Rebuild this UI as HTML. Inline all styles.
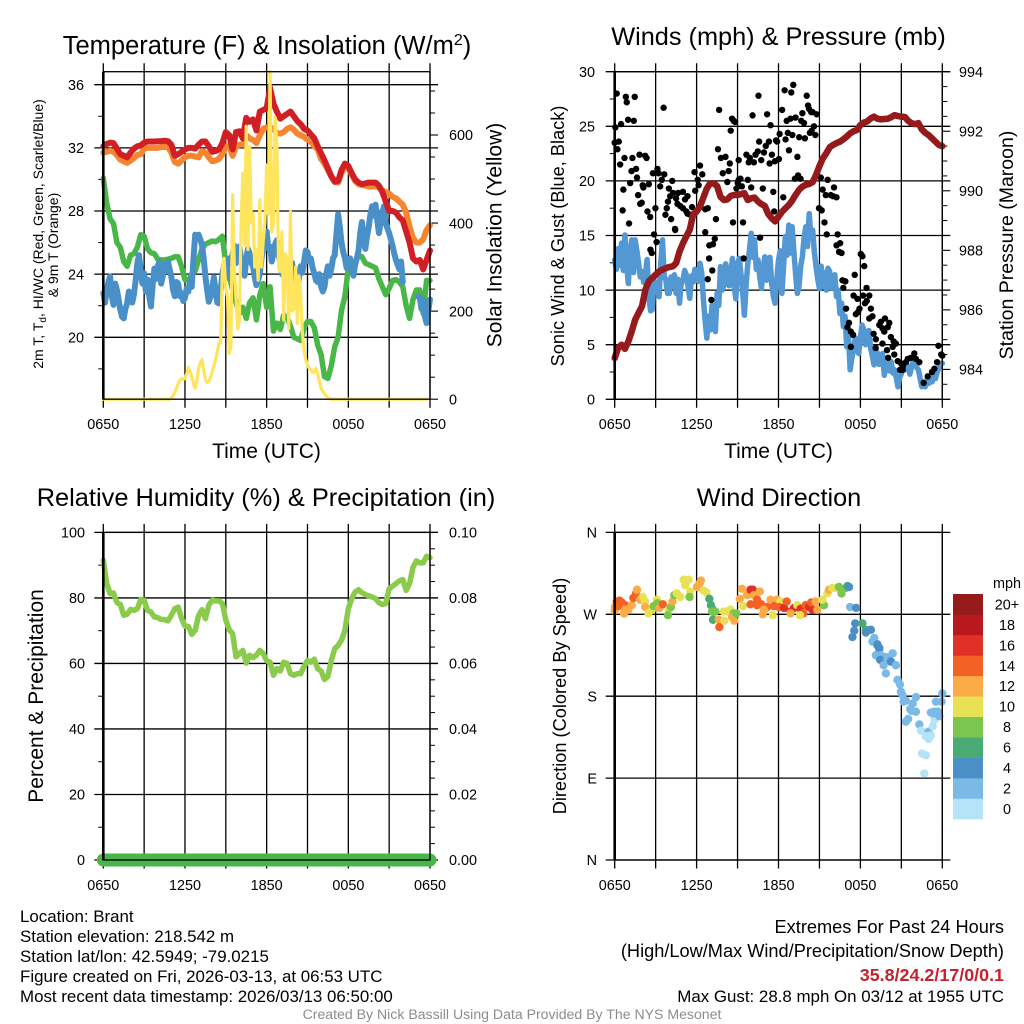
<!DOCTYPE html>
<html>
<head>
<meta charset="utf-8">
<title>Brant station meteogram</title>
<style>
html,body{margin:0;padding:0;background:#fff;}
svg{display:block;font-family:"Liberation Sans",sans-serif;}
</style>
</head>
<body>
<svg id="figure" xmlns="http://www.w3.org/2000/svg" width="1024" height="1024" viewBox="0 0 1024 1024">
<g id="layer-panels"></g>
<text x="267" y="54" font-size="25.5" text-anchor="middle">Temperature (F) &amp; Insolation (W/m<tspan font-size="16" dy="-9">2</tspan><tspan dy="9">)</tspan></text>
<text x="778.5" y="45" font-size="25.3" text-anchor="middle">Winds (mph) &amp; Pressure (mb)</text>
<text x="266" y="506" font-size="25.4" text-anchor="middle">Relative Humidity (%) &amp; Precipitation (in)</text>
<text x="779" y="506" font-size="25.3" text-anchor="middle">Wind Direction</text>
<text x="266.5" y="458" font-size="21" text-anchor="middle">Time (UTC)</text>
<text x="778.5" y="458" font-size="21" text-anchor="middle">Time (UTC)</text>
<text transform="translate(43 234) rotate(-90)" font-size="14" text-anchor="middle">2m T, T<tspan font-size="10" dy="3">d</tspan><tspan dy="-3">, HI/WC (Red, Green, Scarlet/Blue)</tspan></text>
<text transform="translate(58 245) rotate(-90)" font-size="14" text-anchor="middle">&amp; 9m T (Orange)</text>
<text transform="translate(501.5 235) rotate(-90)" font-size="21" text-anchor="middle">Solar Insolation (Yellow)</text>
<text transform="translate(564 236) rotate(-90)" font-size="18.2" text-anchor="middle">Sonic Wind &amp; Gust (Blue, Black)</text>
<text transform="translate(1013 245) rotate(-90)" font-size="19.5" text-anchor="middle">Station Pressure (Maroon)</text>
<text transform="translate(43 696) rotate(-90)" font-size="21" text-anchor="middle">Percent &amp; Precipitation</text>
<text transform="translate(566 696) rotate(-90)" font-size="18.2" text-anchor="middle">Direction (Colored By Speed)</text>
<g font-size="16.9">
<text x="20" y="922">Location: Brant</text>
<text x="20" y="942">Station elevation: 218.542 m</text>
<text x="20" y="962">Station lat/lon: 42.5949; -79.0215</text>
<text x="20" y="982">Figure created on Fri, 2026-03-13, at 06:53 UTC</text>
<text x="20" y="1002">Most recent data timestamp: 2026/03/13 06:50:00</text>
</g>
<g text-anchor="end">
<text x="1004" y="933" font-size="18.2">Extremes For Past 24 Hours</text>
<text x="1004" y="957" font-size="18.2">(High/Low/Max Wind/Precipitation/Snow Depth)</text>
<text x="1004" y="981" font-size="17.9" font-weight="bold" fill="#c8202c">35.8/24.2/17/0/0.1</text>
<text x="1004" y="1002" font-size="16.9">Max Gust: 28.8 mph On 03/12 at 1955 UTC</text>
</g>
<text x="512" y="1019" font-size="14.1" fill="#8c8c8c" text-anchor="middle">Created By Nick Bassill Using Data Provided By The NYS Mesonet</text>
</svg>
<script>
// Time axis: series are sampled on a regular grid over 24 hours.
const timeStepMinutes = 15;
const fineStepMinutes = 7.5;
const timeGridHours = [0, 3, 6, 9, 12, 15, 18, 21, 24];
const timeTickLabels = ['0650', '', '1250', '', '1850', '', '0050', '', '0650'];

const temperatureTicks = [36, 32, 28, 24, 20];
const temperatureMinorTicks = [34, 30, 26, 22, 18];
const solarTicks = [0, 200, 400, 600];
const solarMinorTicks = [50, 100, 150, 250, 300, 350, 450, 500, 550, 650, 700];
const windTicks = [0, 5, 10, 15, 20, 25, 30];
const windMinorTicks = [2.5, 7.5, 12.5, 17.5, 22.5, 27.5];
const pressureTicks = [984, 986, 988, 990, 992, 994];
const pressureMinorTicks = [983.5, 984.5, 985, 985.5, 986.5, 987, 987.5, 988.5, 989, 989.5, 990.5, 991, 991.5, 992.5, 993, 993.5];
const humidityTicks = [0, 20, 40, 60, 80, 100];
const humidityMinorTicks = [10, 30, 50, 70, 90];
const precipTicks = [0, 0.02, 0.04, 0.06, 0.08, 0.1];
const precipTickLabels = ['0.00', '0.02', '0.04', '0.06', '0.08', '0.10'];
const precipMinorTicks = [0.005, 0.01, 0.015, 0.025, 0.03, 0.035, 0.045, 0.05, 0.055, 0.065, 0.07, 0.075, 0.085, 0.09, 0.095];
const compassTicks = [0, 90, 180, 270, 360];
const compassLabels = ['N', 'E', 'S', 'W', 'N'];
const speedBinLabels = ['0', '2', '4', '6', '8', '10', '12', '14', '16', '18', '20+'];
const speedBinColors = ['#b5e3f8', '#7bb9e6', '#4a8fc6', '#4aaa73', '#7ac64e', '#e8e156', '#fbab45', '#f46124', '#e03127', '#b9181f', '#941a1c'];

const airTemp = [32.1,32.25,32.33,32.3,31.95,31.6,31.5,31.4,31.7,31.95,32.1,32.15,32.33,32.4,32.4,32.4,32.42,32.42,32.45,32.42,32.2,31.5,31.6,31.75,31.9,32,32,31.95,32.2,32.4,32.4,32.1,31.75,31.8,31.9,32.3,33,32.8,31.9,33,33.05,32.6,33.9,33.65,33.8,33.1,34.3,34.4,34.5,35.8,34.8,34.3,33.85,34,34.15,34.3,34,33.7,33.5,33.2,33.1,32.85,32.6,32.1,31.65,31.2,30.7,30.2,29.85,29.9,30.6,31,30.85,30.4,30,29.8,29.7,29.75,29.8,29.8,29.8,29.6,29.2,28.6,28,28,27.9,27.6,27.4,26.7,26,25,24.8,24.9,24.3,24.9,25.5];
const nineMeterTemp = [31.7,31.75,31.82,31.75,31.55,31.25,31.15,31.05,31.2,31.35,31.55,31.6,31.95,32,32,32,32,32.05,32.05,32.05,31.7,31.1,31,31.2,31.4,31.5,31.5,31.45,31.4,31.8,31.7,31.4,31.15,31.2,31.3,31.6,32.1,32.1,31.5,32.1,32.2,32.2,32.8,32.6,32.5,32.3,32.8,33.2,33.3,33.3,33.2,32.95,32.9,33,33.2,33.3,33.15,32.9,32.8,32.7,32.5,32.4,32.1,31.9,31.3,31,30.6,30.2,29.9,29.8,30.4,30.8,30.7,30.3,29.9,29.7,29.65,29.6,29.55,29.55,29.55,29.5,29.3,29.2,29.1,28.9,28.8,28.6,28.4,27.9,27,26.3,26,26,26.2,26.8,27.1];
const dewPoint = [30.07,28.5,27.5,27.2,26,25.7,24.8,24.5,25.2,25.3,25.7,26.5,26.4,25.6,25.35,25.3,24.95,24.9,24.9,24.95,25,25.1,25.1,24.5,23.65,23.6,24,24.2,24.9,25.6,25.9,26,26.1,26.05,26.2,26.4,24.6,23.9,23,22.2,21.5,21.9,21.2,22.2,22.5,21.1,22.7,23.4,21.9,23.2,20.4,20.9,20.5,21.4,21.3,20.7,20,19.9,19.8,20.6,21,21,20.6,19.5,18.9,17.5,17.4,18.2,19.4,20,21.7,22.6,24.4,24.6,24.8,25.2,25.1,24.7,24.6,24.5,24.4,23.7,23.2,22.7,23.1,23.6,23.65,23.5,23.2,22,21.2,22.4,23,23,21.5,23.6,23.6];
const windChill = [22.8,22.2,23,23.5,23.85,22.6,22.05,23.4,23,22.4,21.75,21.3,21.2,21.8,22.15,22.9,22.8,22.2,22.7,23.6,24.7,25.2,24.25,23.4,24.05,22.9,23.65,22.6,21.95,23.3,24.35,23.7,24.5,24.8,23.4,23.9,24.6,24.2,24.8,24.3,23.85,23,22.6,23.5,23.4,22.6,22.8,22.3,22.5,23.1,22.9,23.6,23.2,25,26.5,26.3,26.5,26.2,25.85,25,23.85,23,22.25,22.6,23.1,23.8,22.9,22.2,22.15,23,24.05,24.6,23.75,24.6,25,24.6,25.3,25.8,24.7,25.1,25.75,25,24.7,23.9,24.9,25.6,25.3,24.7,24.5,23.8,23.3,23.6,24.05,25,25.65,26.2,26.7,25.6,25.75,24.8,25.3,25.9,26.15,25.3,24.7,24,24.5,25,24.9,24.2,24.05,24.7,23.85,23.2,23,23.8,24.5,24.1,24.8,25.5,25.4,24.8,25,24.4,24.05,23.6,23.5,24,23.2,22.9,23.2,24,24.5,23.9,24.35,25,25.2,26.5,27.8,27,26,25.4,25,24.4,24.5,25,24.3,23.9,24.6,25,25.5,26.6,27.3,26.2,25.6,26.4,27,27.8,28.3,27.7,28.4,27.4,26.6,27.3,27.9,28.3,27.2,26.9,26.6,26.2,25.8,25.3,24.9,24.6,24.3,24.8,23.5,null,null,null,null,null,null,null,null,22.6,22.5,21.8,22.4,21.3,20.9,21.7,22.4];
const solarRadiation = [0,0,0,0,0,0,0,0,0,0,0,0,0,0,0,0,0,0,0,0,0,0,0,0,0,0,0,0,0,0,0,0,0,0,0,0,0,0,0,0,3,8,15,25,35,42,47,45,47,58,72,62,50,36,25,45,70,82,90,65,45,38,40,50,62,75,90,108,127,127,300,320,250,233,104,120,464,300,230,160,180,400,513,350,620,340,574,400,422,300,340,270,453,300,360,400,532,420,744,380,400,640,581,300,290,380,180,330,320,160,426,200,205,300,172,280,240,150,110,90,78,70,68,60,62,70,58,40,25,18,12,7,3,1,0,0,0,0,0,0,0,0,0,0,0,0,0,0,0,0,0,0,0,0,0,0,0,0,0,0,0,0,0,0,0,0,0,0,0,0,0,0,0,0,0,0,0,0,0,0,0,0,0,0,0,0,0,0,0,0,0];

const sonicWind = [12.75,11.9,13.8,12.3,14.3,11.8,15.05,12.2,10.6,13.5,14.6,11.6,14.6,13.6,12.45,11.2,11.7,10.7,11.5,12.8,9.4,8.1,8.2,10.8,10.3,10.7,9.4,12.5,14.6,11.3,10.9,9.7,9.7,11.2,10.3,11.4,9.7,11,8.8,10.6,10.9,11.8,11.4,10.3,9.25,11.3,10.75,11.9,11.5,10.8,12.45,11.6,9.1,7.2,5.6,7.6,6.35,8.6,7.25,6.2,9.7,8.6,12.15,10,10.45,12.4,11.85,10.4,11.5,12.9,10.3,9.2,12.45,12.9,11.5,9.8,7.7,10.4,12.45,13.7,15.2,13,14.6,11.9,12.75,11.2,10.15,12,13.05,10.9,11.85,13,10.6,9.4,8.8,11,12.75,13.6,9.7,12.2,14.9,13.2,15.95,13.4,15.8,13.6,11.5,9.7,10.3,12.2,13.05,14.8,15.8,14,17,14.8,15.5,13.5,12.15,11,10.15,12.2,10.3,11.6,10,12,11.7,10.2,10.6,11.4,9.4,10,7.85,8.8,6.65,7.6,4.8,5.8,2.7,3.8,4.5,5.6,5,4.2,5.7,6.8,6.35,5,5.6,6.3,4.65,4,3.15,4.6,4.2,3.2,3.3,4.2,2.2,3.2,3.3,2.6,3.45,2.4,2.7,2,1.15,2,2.35,3.1,2.7,3.2,2.85,2.3,3,3.5,3.45,2.9,2.7,1.9,1.15,1.6,1.15,1.8,1.45,1.9,1.6,2.2,1.9,2.5,2.85,3.3,3.3];
const stationPressure = [984.38,984.72,984.83,984.69,984.94,985.28,985.67,985.9,986.12,986.68,986.96,987.07,987.18,987.29,987.35,987.4,987.44,987.46,987.57,987.96,988.24,988.47,988.69,989.22,989.3,989.47,989.78,990.08,990.25,990.25,990.16,989.8,989.69,989.71,989.83,989.86,989.86,989.89,989.92,989.69,989.75,989.77,989.64,989.55,989.49,989.22,989.08,988.97,989.13,989.29,989.41,989.52,989.67,989.86,990.03,990.14,990.2,990.23,990.29,990.53,990.83,991.09,991.26,991.46,991.54,991.6,991.65,991.73,991.82,991.93,992,992.04,992.21,992.29,992.33,992.43,992.49,992.42,992.4,992.41,992.42,992.47,992.54,992.51,992.49,992.48,992.35,992.27,992.24,992.27,992.06,991.95,991.87,991.76,991.65,991.54,991.5];
const gustMinutes = [9,49,53,88,59,84,28,3,18,0,12,43,78,109,134,140,24,94,74,98,168,188,193,218,207,253,68,38,123,150,126,200,103,238,112,119,35,144,156,179,229,234,223,248,63,265,244,256,279,300,270,320,309,276,288,300,315,340,320,351,375,365,385,369,354,215,459,454,467,487,475,501,506,545,495,545,553,541,585,535,559,600,651,697,741,579,594,619,629,644,656,664,678,635,612,589,681,691,704,722,709,714,725,751,736,756,773,795,761,781,811,836,825,820,832,858,876,866,882,766,803,792,806,817,906,936,914,964,928,950,960,975,898,910,922,850,844,854,864,888,870,747,776,785,632,606,670,685,523,516,529,510,445,520,564,701,409,398,332,173,184,157,163,266,398,416,432,440,415,429,409,425,567,639,932,980,991,975,986,997,1082,1089,1097,1055,1001,1014,1005,1107,1050,1067,1092,1119,1108,1100,1017,1076,1070,1060,1126,1133,1119,1030,1023,1038,1048,1038,1188,1207,1200,1170,1163,1177,1185,1138,1148,1214,1226,1236,1222,1177,1147,1197,1229,1202,1244,1258,1266,1254,1288,1317,1302,1324,1339,1280,1423,1435,1440,1417,1358,1376,1395,1405,1266];
const gustMph = [28,27.7,27.2,27.7,25.6,25.5,25.2,24.9,23.6,23.5,22.9,22.1,22.1,22.4,22.3,22.1,21.5,21.1,20.9,20.3,20.7,21.1,20.7,20.6,20.1,20,19.8,19.2,19.6,19.7,19.4,19.5,18.7,19.3,17.9,18,17.3,17.2,16.7,17.5,17.5,18.1,16.9,16.5,16.1,15.6,18.6,18.9,18.9,19,18.4,18.6,18.3,17.9,17.7,17.5,17.2,17.6,17,20.8,21.4,20.1,20.6,19.6,19.1,26.7,26.5,22.9,22.1,22.2,20.7,20.9,21.6,21.9,19.9,20.1,20.2,19.8,20.1,19.3,19.5,19.4,19.3,19,18.5,22.4,22.1,22.4,22.7,21.9,22.6,23.2,23.6,23.6,21.7,21.7,21.6,22.4,21.8,22,23.7,23.6,24.3,23.8,26.5,25.5,25.7,25.8,24.4,24.2,24,23.9,26.2,25.5,25.3,24.4,25,24.6,24.2,22.8,22.2,20.2,20.5,20.2,20.3,20.1,19.2,19.4,18.7,18.7,18.6,18.5,17.5,17.3,16.2,26.9,27.8,26.6,26.3,26.1,26.3,28.3,28.1,28.8,27.8,26,26.1,25.1,25.5,25.7,25.4,24.6,16.5,16.2,16.2,17.2,17.5,17.4,16.9,15.1,14.4,13.7,13.4,15.5,15.3,14.1,14.2,14.7,12.9,11.8,11,9.1,12.9,14.8,15.1,15.1,14.3,14.1,13.5,13.4,13.3,13.1,12.2,11.4,10.9,10.8,10.2,10.2,9.5,9.2,9.5,9.5,9,8.8,8.3,8.3,8,7.8,8.3,7.6,7.4,7,6.6,6.2,5.9,4.8,7.4,7,6.6,7.1,6.8,6.5,6.2,6,5.5,5.7,5.3,5.1,4.8,5.1,4.7,4.5,4.1,3.8,3.5,3.3,3,2.7,3.7,4.2,3.8,3.7,3.4,3.4,4.9,4.1,4,3.4,1.5,2.1,2.5,2.8,2.7];

const relativeHumidity = [91.5,84.4,81.3,81.5,78.6,78,74.7,75,76.5,76.2,76.7,79.5,79.3,76.2,75.7,74.2,74,73.4,73.4,73,74.7,76.7,77.2,73.7,71.4,71.3,68.9,70.1,74.7,76.4,73.7,77.8,79.3,79.1,79.1,78.3,73.2,70.3,69.1,62,63,64,60.1,62.5,61.8,62.5,64,63,60.8,60.4,56.4,58.4,57.7,60.4,60,56.9,56.4,56.9,56.9,59.1,60.9,60.4,61.3,58.4,57.7,55.1,56.1,60.9,64.5,65.5,67.1,70.1,76.7,79.8,81.8,82.5,81.6,81,80.6,80.3,79.8,78.5,78,78.3,82.8,83.6,84.4,85.2,85.6,82.3,84.4,89.3,91.3,90.7,90.7,92.7,92.3];
const precipitation = [0,0,0,0,0,0,0,0,0,0,0,0,0,0,0,0,0,0,0,0,0,0,0,0,0,0,0,0,0,0,0,0,0,0,0,0,0,0,0,0,0,0,0,0,0,0,0,0,0,0,0,0,0,0,0,0,0,0,0,0,0,0,0,0,0,0,0,0,0,0,0,0,0,0,0,0,0,0,0,0,0,0,0,0,0,0,0,0,0,0,0,0,0,0,0,0,0];

const directionMinutes = [0,1,9,21,31,16,46,46,60,41,75,82,94,98,112,123,134,134,148,163,171,185,188,197,212,237,234,247,254,262,273,288,303,325,310,332,329,362,373,379,391,403,416,423,432,428,442,432,457,460,482,479,494,509,523,516,526,535,560,550,564,582,597,607,612,638,626,597,626,644,670,656,651,685,714,700,729,722,744,756,773,788,803,817,829,814,773,839,854,869,864,883,891,695,920,913,935,942,957,972,986,997,1016,1023,1030,1035,1061,1057,1045,1053,1089,1104,1126,1104,1141,1155,1163,1152,1167,1200,1222,1192,1133,1155,1163,1148,1170,1167,1199,1214,1221,1182,1236,1192,1243,1254,1258,1265,1280,1270,1324,1310,1299,1324,1305,1290,1280,1339,1346,1379,1368,1390,1380,1398,1405,1390,1420,1412,1437,1427,1440,1351,1368,1361,1405,1398];
const directionDegrees = [274,278,284,285,283,279,280,275,275,271,280,288,293,297,286,289,284,278,271,275,279,286,282,277,281,275,269,278,284,291,293,289,308,308,302,295,289,300,304,307,296,294,287,280,275,273,273,264,264,256,263,273,273,275,271,267,263,271,298,287,279,291,297,297,291,295,286,281,280,281,278,275,270,286,286,279,284,278,277,284,273,277,280,276,271,269,271,280,278,275,283,284,275,269,280,286,293,297,299,299,300,293,299,301,300,278,277,260,245,252,260,253,253,250,244,236,233,225,222,220,227,223,240,237,232,225,225,220,221,218,227,214,214,205,198,193,185,181,175,174,179,172,166,163,164,155,152,149,142,141,136,137,133,147,154,162,163,174,174,158,183,117,115,95,163,161];
const directionSpeeds = [12,12,14,14,14,14,14,12,12,12,12,14,14,12,12,10,10,12,10,10,8,10,8,12,14,10,8,8,12,8,10,10,10,10,10,10,8,12,12,12,10,10,6,6,6,8,8,6,12,14,10,10,10,10,8,12,12,8,12,12,10,12,16,16,12,12,14,14,14,14,14,12,12,12,12,14,10,14,16,14,16,16,10,16,14,10,12,14,16,16,14,12,12,10,8,10,10,12,10,10,8,8,8,6,4,2,4,4,4,4,6,6,4,4,2,4,4,2,4,4,2,2,2,4,4,2,2,4,2,4,2,2,2,2,2,2,2,2,2,2,2,2,2,2,2,2,2,2,0,2,0,0,0,0,0,2,2,2,2,2,2,0,0,0,2,2];

const NS = 'http://www.w3.org/2000/svg';
const root = document.getElementById('layer-panels');

function add(parent, tag, attrs) {
  const n = document.createElementNS(NS, tag);
  for (const k in attrs) n.setAttribute(k, attrs[k]);
  parent.appendChild(n);
  return n;
}
function linear(d0, d1, r0, r1) {
  return function (v) { return r0 + (v - d0) * (r1 - r0) / (d1 - d0); };
}

function buildPath(values, xs, ys, step) {
  let d = '', pen = false;
  values.forEach(function (v, i) {
    if (v === null) { pen = false; return; }
    d += (pen ? 'L' : 'M') + xs(i * step).toFixed(2) + ' ' + ys(v).toFixed(2);
    pen = true;
  });
  return d;
}
function drawSeries(g, values, step, xs, ys, color, width, name) {
  const p = add(g, 'path', { d: buildPath(values, xs, ys, step), fill: 'none', stroke: color, 'stroke-width': width, 'stroke-linejoin': 'round', 'stroke-linecap': 'round' });
  
  
  return p;
}

function makePanel(name, left, right, top, bottom, labelY) {
  const g = add(root, 'g', {});
  
  
  const minutesToX = linear(0, 1440, left, right);
  const axes = add(root, 'g', {});
  
  
  timeGridHours.forEach(function (h, i) {
    const x = minutesToX(h * 60);
    const line = add(g, 'line', { x1: x, x2: x, y1: top - 8.5, y2: bottom + 8.5, stroke: '#000', 'stroke-width': 1.3 });
    
    
    if (timeTickLabels[i]) {
      const t = add(g, 'text', { x: x, y: labelY, 'font-size': 14.4, 'text-anchor': 'middle' });
      t.textContent = timeTickLabels[i];
      
      
    }
  });
  const frame = add(axes, 'rect', { x: left, y: top, width: right - left, height: bottom - top, fill: 'none', stroke: '#000', 'stroke-width': 1.3 });
  
  
  const spine = add(axes, 'line', { x1: left, x2: left, y1: top, y2: bottom, stroke: '#000', 'stroke-width': 2.6 });
  
  
  return { g: g, xs: minutesToX, left: left, right: right };
}

function leftAxis(panel, name, ticks, minors, ys, labelEdge, labels) {
  ticks.forEach(function (v, i) {
    const y = ys(v);
    const line = add(panel.g, 'line', { x1: panel.left - 9, x2: panel.right + 8, y1: y, y2: y, stroke: '#000', 'stroke-width': 1.3 });
    
    
    const t = add(panel.g, 'text', { x: labelEdge, y: y + 5.2, 'font-size': 14.4, 'text-anchor': 'end' });
    t.textContent = labels ? labels[i] : String(v);
    
    
  });
  minors.forEach(function (v) {
    const y = ys(v);
    const line = add(panel.g, 'line', { x1: panel.left - 5, x2: panel.left, y1: y, y2: y, stroke: '#000', 'stroke-width': 1 });
    
    
  });
}
function rightAxis(panel, name, ticks, minors, ys, labelEdge, labels) {
  ticks.forEach(function (v, i) {
    const y = ys(v);
    const line = add(panel.g, 'line', { x1: panel.right, x2: panel.right + 8, y1: y, y2: y, stroke: '#000', 'stroke-width': 1.1 });
    
    
    const t = add(panel.g, 'text', { x: labelEdge, y: y + 5.2, 'font-size': 14.4 });
    t.textContent = labels ? labels[i] : String(v);
    
    
  });
  minors.forEach(function (v) {
    const y = ys(v);
    const line = add(panel.g, 'line', { x1: panel.right, x2: panel.right + 5, y1: y, y2: y, stroke: '#000', 'stroke-width': 1 });
    
    
  });
}

/* Temperature and insolation */
const tempPanel = makePanel('temperature', 103.3, 430, 71.7, 399.2, 429);
const tempY = linear(20, 36, 337.3, 84.7);
const solarY = linear(0, 600, 399.2, 135);
leftAxis(tempPanel, 'temperature-axis', temperatureTicks, temperatureMinorTicks, tempY, 84);
rightAxis(tempPanel, 'solar-axis', solarTicks, solarMinorTicks, solarY, 449);
drawSeries(tempPanel.g, dewPoint, timeStepMinutes, tempPanel.xs, tempY, '#49b648', 5.5, 'dew-point-line');
drawSeries(tempPanel.g, windChill, fineStepMinutes, tempPanel.xs, tempY, '#4a90c8', 6, 'wind-chill-line');
drawSeries(tempPanel.g, nineMeterTemp, timeStepMinutes, tempPanel.xs, tempY, '#f68530', 6, 'nine-meter-temperature-line');
drawSeries(tempPanel.g, airTemp, timeStepMinutes, tempPanel.xs, tempY, '#d11f26', 6, 'air-temperature-line');
drawSeries(tempPanel.g, solarRadiation, fineStepMinutes, tempPanel.xs, solarY, '#ffe45e', 3.2, 'solar-insolation-line');

/* Winds and pressure */
const windPanel = makePanel('winds', 614.7, 942.3, 71.7, 399.3, 429);
const windY = linear(0, 30, 399.3, 71.7);
const pressureY = linear(984, 994, 369.4, 71.7);
leftAxis(windPanel, 'wind-axis', windTicks, windMinorTicks, windY, 595);
rightAxis(windPanel, 'pressure-axis', pressureTicks, pressureMinorTicks, pressureY, 959);
drawSeries(windPanel.g, sonicWind, fineStepMinutes, windPanel.xs, windY, '#5398d3', 5.5, 'sonic-wind-line');
gustMinutes.forEach(function (m, i) {
  const c = add(windPanel.g, 'circle', { cx: windPanel.xs(m), cy: windY(gustMph[i]), r: 3.2, fill: '#000' });
  
  
});
drawSeries(windPanel.g, stationPressure, timeStepMinutes, windPanel.xs, pressureY, '#941a1c', 6.5, 'station-pressure-line');

/* Humidity and precipitation */
const humidityPanel = makePanel('humidity', 103.3, 430, 532.4, 860, 890);
const humidityY = linear(0, 100, 860, 532.4);
const precipY = linear(0, 0.1, 860, 532.4);
leftAxis(humidityPanel, 'humidity-axis', humidityTicks, humidityMinorTicks, humidityY, 85);
rightAxis(humidityPanel, 'precipitation-axis', precipTicks, precipMinorTicks, precipY, 449, precipTickLabels);
drawSeries(humidityPanel.g, relativeHumidity, timeStepMinutes, humidityPanel.xs, humidityY, '#8acb4b', 5.5, 'relative-humidity-line');
drawSeries(humidityPanel.g, precipitation, timeStepMinutes, humidityPanel.xs, precipY, '#4ab649', 13, 'precipitation-line');

/* Wind direction */
const directionPanel = makePanel('wind-direction', 614.7, 942.3, 532.4, 860, 890);
const directionY = linear(0, 360, 860, 532.4);
leftAxis(directionPanel, 'direction-axis', compassTicks, [], directionY, 597, compassLabels);
directionMinutes.forEach(function (m, i) {
  const c = add(directionPanel.g, 'circle', { cx: directionPanel.xs(m), cy: directionY(directionDegrees[i]), r: 4.2, fill: speedBinColors[Math.min(10, Math.round(directionSpeeds[i] / 2))] });
  
  
});

/* Speed colour bar */
const legend = add(root, 'g', {});


const legendBinY = linear(0, speedBinLabels.length, 819, 594);
speedBinLabels.forEach(function (label, i) {
  const box = add(legend, 'rect', { x: 953, y: legendBinY(i + 1), width: 30, height: legendBinY(i) - legendBinY(i + 1) + 0.3, fill: speedBinColors[i] });
  
  
  const t = add(legend, 'text', { x: 1007, y: legendBinY(i + 0.5) + 5.2, 'font-size': 14.4, 'text-anchor': 'middle' });
  t.textContent = label;
  
  
});
const legendUnit = add(legend, 'text', { x: 1007, y: 588, 'font-size': 14.4, 'text-anchor': 'middle' });
legendUnit.textContent = 'mph';


</script>
</body>
</html>
